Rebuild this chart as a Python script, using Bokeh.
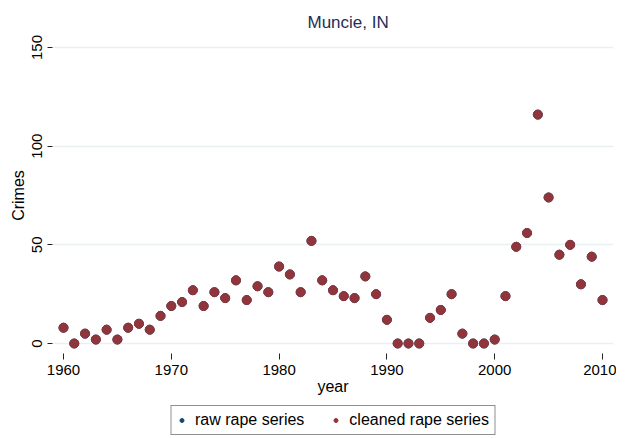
from bokeh.plotting import figure
from bokeh.layouts import column
from bokeh.models import Legend, LegendItem, FixedTicker, ColumnDataSource, Range1d
from bokeh.embed import file_html
from bokeh.resources import INLINE

years = list(range(1960, 2011))
cleaned = [8, 0, 5, 2, 7, 2, 8, 10, 7, 14,
           19, 21, 27, 19, 26, 23, 32, 22, 29, 26,
           39, 35, 26, 52, 32, 27, 24, 23, 34, 25,
           12, 0, 0, 0, 13, 17, 25, 5, 0, 0,
           2, 24, 49, 56, 116, 74, 45, 50, 30, 44,
           22]
raw = list(cleaned)
x_ticks = [1960, 1970, 1980, 1990, 2000, 2010]
y_ticks = [0, 50, 100, 150]
series_labels = ["raw rape series", "cleaned rape series"]
series_colors = ["#1a476f", "#90353b"]
title_text = "Muncie, IN"

FONT = "Liberation Sans"

p = figure(frame_width=561, frame_height=316,
           x_range=(1958.98, 2011.02), y_range=(-5.07, 155.07),
           output_backend="svg", toolbar_location=None,
           min_border_left=52, min_border_right=3, min_border_top=37, min_border_bottom=50)
p.background_fill_color = "white"
p.border_fill_color = "white"
p.outline_line_color = None

p.title.text = title_text
p.title.align = "left"
p.title.offset = 255
p.title.text_font = FONT
p.title.text_font_size = "17px"
p.title.text_font_style = "normal"
p.title.text_color = "#1f2d57"
p.title.standoff = 12

src = ColumnDataSource(dict(year=years, raw=raw, cleaned=cleaned))
p.scatter("year", "raw", source=src, size=9, fill_color=series_colors[0], line_color=series_colors[0])
p.scatter("year", "cleaned", source=src, size=9, fill_color=series_colors[1], line_color=series_colors[1])

p.xgrid.grid_line_color = None
p.ygrid.grid_line_color = "#e8f0f2"
p.ygrid.grid_line_width = 1.5

p.xaxis.ticker = FixedTicker(ticks=x_ticks)
p.yaxis.ticker = FixedTicker(ticks=y_ticks)
for ax in (p.xaxis[0], p.yaxis[0]):
    ax.axis_line_color = None
    ax.major_tick_line_color = "#222222"
    ax.minor_tick_line_color = None
    ax.major_tick_in = 0
    ax.major_label_text_font = FONT
    ax.major_label_text_font_size = "15px"
    ax.major_label_text_color = "black"
    ax.axis_label_text_font = FONT
    ax.axis_label_text_font_size = "16px"
    ax.axis_label_text_font_style = "normal"
    ax.axis_label_text_color = "black"

p.xaxis.axis_label = "year"
p.xaxis.major_tick_out = 6
p.xaxis.major_label_standoff = 5
p.xaxis.axis_label_standoff = 0
p.yaxis.axis_label = "Crimes"
p.yaxis.major_tick_out = 5
p.yaxis.major_label_orientation = "vertical"
p.yaxis.major_label_standoff = 5
p.yaxis.axis_label_standoff = 3

# legend strip below the plot, aligned with the plot frame
lg = figure(frame_width=561, frame_height=34, x_range=Range1d(0, 1), y_range=Range1d(0, 1),
            output_backend="svg", toolbar_location=None,
            min_border_left=52, min_border_right=3, min_border_top=0, min_border_bottom=0)
lg.outline_line_color = None
lg.axis.visible = False
lg.grid.visible = False
lg.background_fill_color = "white"
lg.border_fill_color = "white"
hidden = ColumnDataSource(dict(x=[-5], y=[-5]))
items = []
for lab, col in zip(series_labels, series_colors):
    r = lg.scatter("x", "y", source=hidden, size=9, fill_color=col, line_color=col)
    items.append(LegendItem(label=lab, renderers=[r]))
legend = Legend(items=items, orientation="horizontal", location="center",
                label_text_font=FONT, label_text_font_size="16px", label_text_color="black",
                border_line_color="#222222", border_line_width=1,
                background_fill_color="white", background_fill_alpha=1,
                padding=5, spacing=26, margin=0, glyph_width=10, glyph_height=14,
                label_height=14, label_standoff=9)
lg.add_layout(legend, "center")

layout = column(p, lg, spacing=0)
open("out.html", "w").write(file_html(layout, INLINE))
